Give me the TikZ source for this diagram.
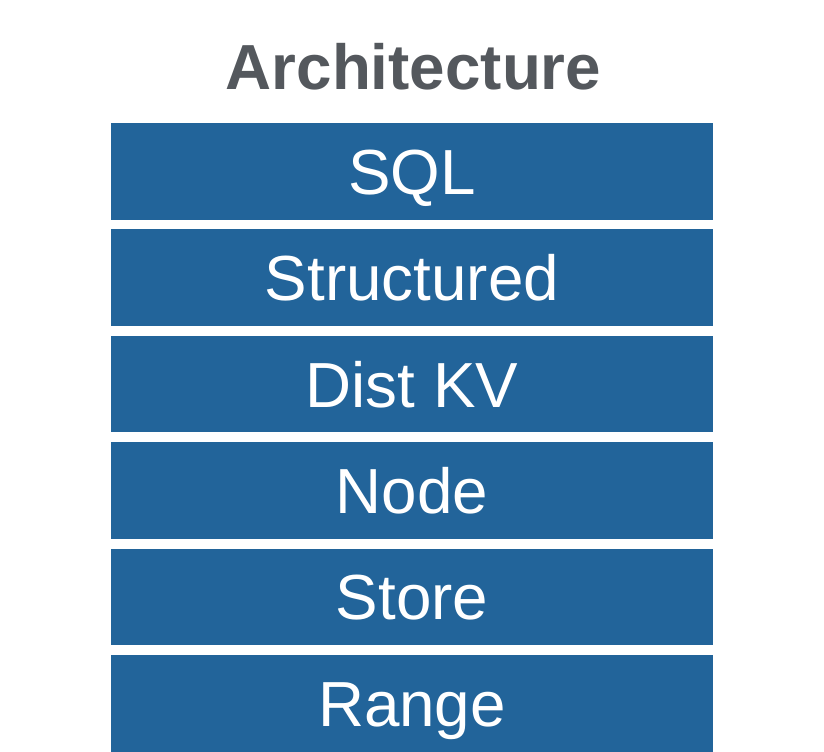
\documentclass[tikz,border=0pt]{standalone}
\usepackage{fontspec}
\setmainfont{Liberation Sans}
\usepackage{tikz}
\usetikzlibrary{positioning}
\definecolor{layerblue}{RGB}{34,100,154}
\definecolor{titlegray}{RGB}{84,88,93}

\begin{document}
\begin{tikzpicture}[x=0.75pt,y=0.75pt,yscale=-1,xscale=1,
  layer/.style={fill=layerblue,text=white,inner sep=0pt,outer sep=0pt,
    minimum width=451.5pt,minimum height=72.5pt,
    text height=34.3pt,text depth=0pt,font=\fontsize{47.8pt}{50pt}\selectfont},
  node distance=7.3pt]
%set diagram size 824 x 752
\useasboundingbox (0,0) rectangle (824,752);

% Title
\node (title) [anchor=base,text=titlegray,inner sep=0pt,font=\fontsize{47.8pt}{50pt}\selectfont\bfseries] at (413.5,90) {Architecture};

% Layers
\node (sql) [layer] at (412,171.35) {SQL};
\node (structured) [layer,below=of sql] {Structured};
\node (distkv) [layer,below=of structured] {Dist KV};
\node (nodelayer) [layer,below=of distkv] {Node};
\node (store) [layer,below=of nodelayer] {Store};
\node (range) [layer,below=of store] {Range};

\end{tikzpicture}
\end{document}
